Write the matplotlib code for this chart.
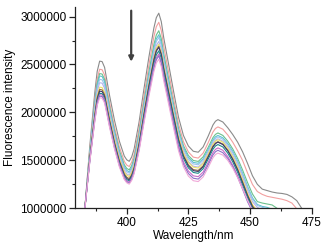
import numpy as np
import matplotlib
matplotlib.use("Agg")
import matplotlib.pyplot as plt
from matplotlib.ticker import MultipleLocator

plt.rcParams['font.family'] = ['Liberation Sans', 'DejaVu Sans']

# wavelength grid (nm), denser around peaks and the first valley
wavelength = [383, 385, 387, 388, 389, 390, 391, 393, 395, 397, 399, 400, 401, 402, 403, 405, 407, 409,
              411, 412, 413, 414, 415, 417, 419, 421, 423, 425, 427, 429, 431, 433, 435, 436, 437, 439,
              441, 443, 445, 447, 449, 451, 453, 455, 457, 459, 461, 463, 465, 467, 469, 471]

# intensities in thousands, one list per titration step (top to bottom)
gray = [1000, 1650, 2200, 2428, 2535, 2530, 2470, 2180, 1920, 1700, 1545, 1506, 1490, 1536, 1620, 1900,
        2250, 2580, 2880, 2989, 3035, 2948, 2780, 2500, 2220, 1950, 1760, 1650, 1595, 1585, 1640, 1750,
        1870, 1908, 1925, 1900, 1840, 1770, 1690, 1590, 1470, 1340, 1250, 1200, 1185, 1170, 1160, 1155,
        1145, 1120, 1080, 1000]
salmon = [1000, 1610, 2130, 2349, 2450, 2445, 2390, 2105, 1850, 1640, 1490, 1451, 1436, 1481, 1562, 1834,
          2173, 2496, 2790, 2895, 2940, 2855, 2691, 2417, 2144, 1881, 1695, 1588, 1534, 1524, 1576, 1682,
          1797, 1833, 1849, 1825, 1765, 1690, 1600, 1500, 1370, 1250, 1175, 1145, 1125, 1115, 1105, 1095,
          1080, 1055, 995, 940]
green = [1000, 1590, 2096, 2307, 2405, 2400, 2345, 2064, 1813, 1602, 1454, 1416, 1401, 1445, 1523, 1786,
         2112, 2424, 2707, 2808, 2852, 2770, 2612, 2349, 2086, 1832, 1654, 1550, 1499, 1489, 1537, 1633,
         1738, 1771, 1786, 1760, 1700, 1620, 1520, 1400, 1270, 1150, 1070, 1055, 1045, 1035, 1000, 950,
         920, 900, 880, 860]
cyan = [1000, 1580, 2076, 2283, 2380, 2375, 2320, 2040, 1790, 1580, 1433, 1395, 1380, 1423, 1500, 1759,
        2081, 2388, 2667, 2767, 2810, 2730, 2574, 2316, 2057, 1808, 1632, 1530, 1479, 1470, 1516, 1611,
        1714, 1746, 1760, 1735, 1675, 1595, 1490, 1365, 1230, 1110, 1040, 1020, 1010, 990, 950, 920,
        900, 880, 860, 840]
lightblue = [1000, 1565, 2049, 2251, 2345, 2340, 2286, 2012, 1768, 1563, 1419, 1382, 1367, 1409, 1486, 1742,
             2060, 2365, 2641, 2740, 2782, 2702, 2548, 2292, 2036, 1789, 1615, 1514, 1463, 1454, 1501, 1595,
             1698, 1730, 1745, 1720, 1660, 1580, 1475, 1350, 1215, 1095, 1030, 1010, 995, 960, 930, 910,
             890, 870, 850, 830]
lavender = [1000, 1550, 2022, 2218, 2310, 2305, 2252, 1982, 1741, 1538, 1396, 1359, 1345, 1387, 1462, 1715,
            2029, 2328, 2601, 2698, 2740, 2661, 2509, 2257, 2004, 1760, 1589, 1489, 1439, 1430, 1477, 1573,
            1678, 1710, 1725, 1700, 1640, 1555, 1450, 1325, 1190, 1070, 1010, 985, 960, 930, 900, 880,
            860, 840, 820, 800]
yellow = [1000, 1531, 1986, 2176, 2264, 2259, 2208, 1947, 1714, 1518, 1380, 1345, 1331, 1372, 1447, 1697,
          2008, 2305, 2574, 2671, 2712, 2634, 2485, 2235, 1986, 1746, 1576, 1478, 1429, 1420, 1467, 1563,
          1668, 1700, 1715, 1690, 1625, 1540, 1430, 1300, 1160, 1040, 975, 950, 925, 900, 880, 860,
          840, 820, 800, 780]
brown = [1000, 1521, 1967, 2153, 2240, 2235, 2184, 1924, 1691, 1496, 1359, 1324, 1310, 1351, 1426, 1676,
         1986, 2283, 2552, 2649, 2690, 2612, 2462, 2212, 1962, 1721, 1552, 1453, 1404, 1395, 1443, 1541,
         1647, 1680, 1695, 1670, 1605, 1515, 1405, 1275, 1140, 1025, 960, 930, 905, 880, 860, 840,
         820, 800, 780, 760]
navy = [1000, 1513, 1953, 2136, 2222, 2217, 2167, 1908, 1676, 1482, 1346, 1311, 1297, 1338, 1413, 1663,
        1975, 2272, 2542, 2639, 2680, 2602, 2452, 2202, 1952, 1711, 1541, 1442, 1393, 1384, 1433, 1532,
        1641, 1675, 1690, 1665, 1600, 1510, 1400, 1265, 1130, 1015, 950, 920, 895, 870, 850, 830,
        810, 790, 770, 750]
teal = [1000, 1504, 1936, 2116, 2200, 2195, 2145, 1889, 1660, 1468, 1333, 1299, 1285, 1326, 1399, 1645,
        1950, 2242, 2506, 2601, 2642, 2565, 2417, 2171, 1924, 1687, 1520, 1422, 1374, 1365, 1413, 1511,
        1617, 1650, 1665, 1640, 1575, 1485, 1375, 1245, 1110, 995, 930, 900, 875, 850, 830, 810,
        790, 770, 750, 730]
magenta = [1000, 1498, 1924, 2102, 2185, 2180, 2130, 1875, 1646, 1455, 1320, 1286, 1272, 1312, 1384, 1627,
           1928, 2215, 2476, 2570, 2610, 2533, 2385, 2138, 1891, 1653, 1485, 1388, 1339, 1330, 1378, 1476,
           1582, 1615, 1630, 1605, 1540, 1450, 1340, 1215, 1085, 975, 910, 880, 855, 830, 810, 790,
           770, 750, 730, 710]
purple = [1000, 1491, 1913, 2088, 2170, 2165, 2116, 1861, 1634, 1444, 1310, 1276, 1262, 1302, 1374, 1614,
          1913, 2198, 2457, 2550, 2590, 2513, 2364, 2116, 1868, 1629, 1460, 1363, 1314, 1305, 1353, 1451,
          1557, 1590, 1605, 1580, 1520, 1435, 1325, 1200, 1070, 965, 900, 870, 845, 820, 800, 780,
          760, 740, 720, 700]
pink = [1000, 1484, 1899, 2072, 2153, 2148, 2099, 1847, 1621, 1432, 1300, 1266, 1252, 1291, 1361, 1597,
        1890, 2171, 2425, 2516, 2555, 2478, 2330, 2084, 1838, 1601, 1433, 1336, 1288, 1279, 1327, 1423,
        1528, 1561, 1576, 1555, 1500, 1420, 1320, 1205, 1085, 980, 905, 870, 845, 820, 800, 780,
        760, 740, 720, 700]

series = [gray, salmon, green, cyan, lightblue, lavender, yellow, brown, navy, teal, magenta, purple, pink]
colors = ['#8a8a8a', '#f2a0a0', '#6cc08c', '#5cc4d0', '#9cc4ec', '#b4b4ec', '#ece46c', '#9a6e3c',
          '#3c3c6c', '#1e8a8a', '#c86cc8', '#9070c8', '#f0a8d8']

fig = plt.figure(figsize=(3.29, 2.48), dpi=100)
ax = fig.add_axes([0.228, 0.160, 0.719, 0.812])

for vals, c in zip(series, colors):
    ax.plot(wavelength, np.array(vals) * 1000, color=c, lw=0.8)

# arrow showing the decrease
ax.annotate('', xy=(401.8, 2.50e6), xytext=(401.8, 3.09e6),
            arrowprops=dict(arrowstyle='-|>', color='#404040', lw=1.6, mutation_scale=7))

ax.set_xlim(379, 475)
ax.set_ylim(1.0e6, 3.1e6)
ax.xaxis.set_major_locator(MultipleLocator(25))
ax.xaxis.set_minor_locator(MultipleLocator(12.5))
ax.yaxis.set_major_locator(MultipleLocator(500000))
ax.yaxis.set_minor_locator(MultipleLocator(250000))
ax.ticklabel_format(axis='y', style='plain', useOffset=False)

for s in ['top', 'right']:
    ax.spines[s].set_visible(False)
for s in ['left', 'bottom']:
    ax.spines[s].set_color('#222222')
    ax.spines[s].set_linewidth(0.9)

ax.tick_params(which='major', length=4, width=0.9, labelsize=8.5, pad=2, color='#222222')
ax.tick_params(which='minor', length=2, width=0.8, color='#222222')

ax.set_xlabel('Wavelength/nm', fontsize=8.5, labelpad=1)
ax.set_ylabel('Fluorescence intensity', fontsize=8.5, labelpad=3)

fig.savefig('out.png', dpi=100)
